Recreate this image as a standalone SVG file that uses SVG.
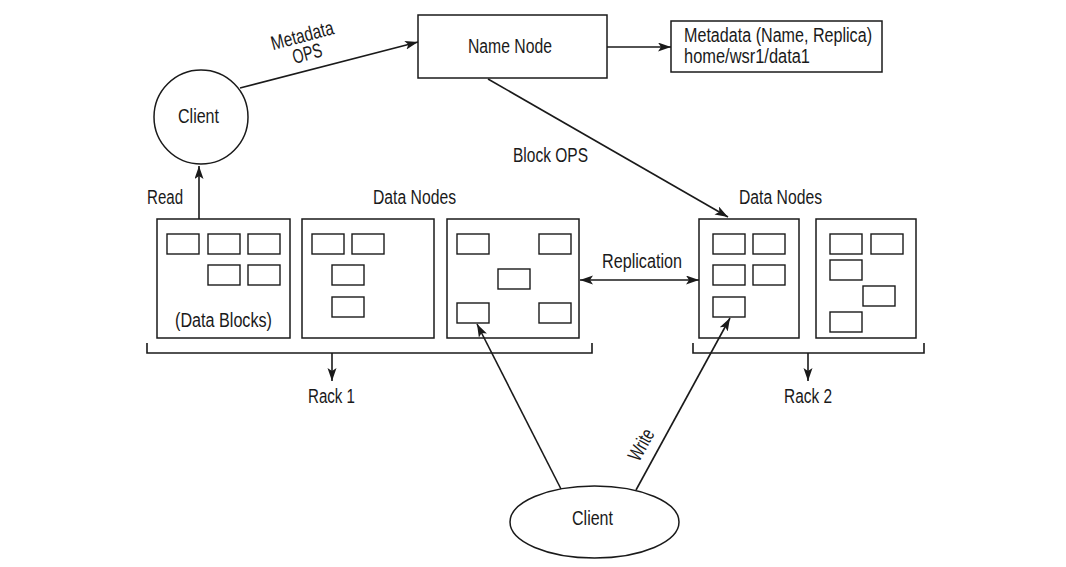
<svg xmlns="http://www.w3.org/2000/svg" width="1066" height="567" viewBox="0 0 1066 567">
<style>
.bx{fill:#fff;stroke:#1a1a1a;stroke-width:1.5}
.blk{fill:#fff;stroke:#1a1a1a;stroke-width:1.4}
.ln{fill:none;stroke:#1a1a1a;stroke-width:1.6}
.t{font-family:"Liberation Sans",Arial,sans-serif;font-size:20px;fill:#1a1a1a}
</style>
<defs>
<marker id="ah" markerUnits="userSpaceOnUse" markerWidth="14" markerHeight="10" refX="13" refY="4.5" orient="auto-start-reverse">
<path d="M0,0 L13,4.5 L0,9 L3,4.5 z" fill="#1a1a1a"/>
</marker>
</defs>
<rect width="1066" height="567" fill="#fff"/>

<g id="name-node">
<rect class="bx" x="418" y="15" width="189" height="63"/>
<text class="t" x="468" y="53" textLength="84" lengthAdjust="spacingAndGlyphs">Name Node</text>
</g>

<g id="metadata">
<rect class="bx" x="671" y="21" width="211" height="51"/>
<text class="t" x="684" y="42" textLength="188" lengthAdjust="spacingAndGlyphs">Metadata (Name, Replica)</text>
<text class="t" x="684" y="63" textLength="126" lengthAdjust="spacingAndGlyphs">home/wsr1/data1</text>
</g>

<g id="client-top">
<circle class="bx" cx="201" cy="117" r="47"/>
<text class="t" x="178" y="123" textLength="41" lengthAdjust="spacingAndGlyphs">Client</text>
</g>

<g id="client-bottom">
<ellipse class="bx" cx="594.5" cy="522" rx="84.5" ry="36"/>
<text class="t" x="572" y="525" textLength="41" lengthAdjust="spacingAndGlyphs">Client</text>
</g>

<g id="rack1-label">
<text class="t" x="373" y="204" textLength="83" lengthAdjust="spacingAndGlyphs">Data Nodes</text>
</g>

<g id="rack1-node1">
<rect class="bx" x="157" y="219" width="133" height="119"/>
<rect class="blk" x="167" y="234" width="32" height="20"/>
<rect class="blk" x="208" y="234" width="32" height="20"/>
<rect class="blk" x="248" y="234" width="32" height="20"/>
<rect class="blk" x="208" y="265" width="32" height="20"/>
<rect class="blk" x="248" y="265" width="32" height="20"/>
<text class="t" x="175" y="327" textLength="97" lengthAdjust="spacingAndGlyphs">(Data Blocks)</text>
</g>

<g id="rack1-node2">
<rect class="bx" x="302" y="219" width="132" height="119"/>
<rect class="blk" x="312" y="234" width="32" height="20"/>
<rect class="blk" x="352" y="234" width="32" height="20"/>
<rect class="blk" x="332" y="265" width="32" height="20"/>
<rect class="blk" x="332" y="297" width="32" height="20"/>
</g>

<g id="rack1-node3">
<rect class="bx" x="447" y="219" width="132" height="119"/>
<rect class="blk" x="457" y="234" width="32" height="20"/>
<rect class="blk" x="539" y="234" width="32" height="20"/>
<rect class="blk" x="498" y="269" width="32" height="20"/>
<rect class="blk" x="457" y="303" width="32" height="20"/>
<rect class="blk" x="539" y="303" width="32" height="20"/>
</g>

<g id="rack2-label">
<text class="t" x="739" y="204" textLength="83" lengthAdjust="spacingAndGlyphs">Data Nodes</text>
</g>

<g id="rack2-node1">
<rect class="bx" x="699" y="219" width="100" height="119"/>
<rect class="blk" x="713" y="234" width="32" height="20"/>
<rect class="blk" x="753" y="234" width="32" height="20"/>
<rect class="blk" x="713" y="265" width="32" height="20"/>
<rect class="blk" x="753" y="265" width="32" height="20"/>
<rect class="blk" x="713" y="297" width="32" height="20"/>
</g>

<g id="rack2-node2">
<rect class="bx" x="816" y="219" width="100" height="119"/>
<rect class="blk" x="830" y="234" width="32" height="20"/>
<rect class="blk" x="871" y="234" width="32" height="20"/>
<rect class="blk" x="830" y="260" width="32" height="20"/>
<rect class="blk" x="863" y="286" width="32" height="20"/>
<rect class="blk" x="830" y="312" width="32" height="20"/>
</g>

<g id="connectors">
<line class="ln" x1="240" y1="88" x2="418" y2="42" marker-end="url(#ah)"/>
<line class="ln" x1="607" y1="47" x2="671" y2="47" marker-end="url(#ah)"/>
<line class="ln" x1="488" y1="79" x2="728" y2="217" marker-end="url(#ah)"/>
<line class="ln" x1="199" y1="219" x2="199" y2="166" marker-end="url(#ah)"/>
<line class="ln" x1="580" y1="280" x2="699" y2="280" marker-start="url(#ah)" marker-end="url(#ah)"/>
<path class="ln" d="M147,343 V353 H592 V343"/>
<line class="ln" x1="332" y1="353" x2="332" y2="381" marker-end="url(#ah)"/>
<path class="ln" d="M693,343 V353 H924 V343"/>
<line class="ln" x1="808" y1="353" x2="808" y2="381" marker-end="url(#ah)"/>
<line class="ln" x1="561" y1="489" x2="477" y2="324" marker-end="url(#ah)"/>
<line class="ln" x1="636" y1="490" x2="730" y2="318" marker-end="url(#ah)"/>
<text class="t" x="304" y="42" text-anchor="middle" textLength="64" lengthAdjust="spacingAndGlyphs" transform="rotate(-15 304 42)">Metadata</text>
<text class="t" x="309" y="60" text-anchor="middle" textLength="30" lengthAdjust="spacingAndGlyphs" transform="rotate(-15 309 60)">OPS</text>
<text class="t" x="513" y="162" textLength="75" lengthAdjust="spacingAndGlyphs">Block OPS</text>
<text class="t" x="147" y="204" textLength="36" lengthAdjust="spacingAndGlyphs">Read</text>
<text class="t" x="602" y="268" textLength="80" lengthAdjust="spacingAndGlyphs">Replication</text>
<text class="t" x="308" y="403" textLength="47" lengthAdjust="spacingAndGlyphs">Rack 1</text>
<text class="t" x="784" y="403" textLength="48" lengthAdjust="spacingAndGlyphs">Rack 2</text>
<text class="t" x="647" y="448" text-anchor="middle" textLength="33" lengthAdjust="spacingAndGlyphs" transform="rotate(-61 647 448)">Write</text>
</g>
</svg>
